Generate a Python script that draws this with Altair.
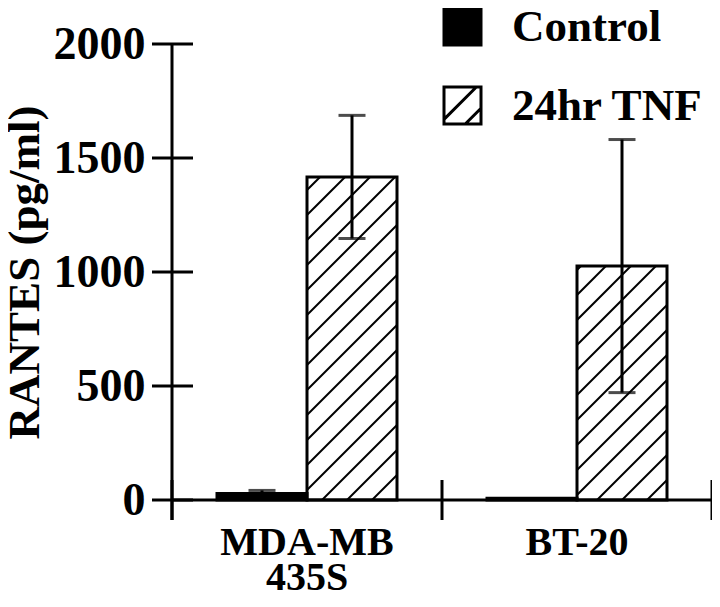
import math
import altair as alt
import pandas as pd

# ---- data ----
cell_lines = ["MDA-MB\n435S", "BT-20"]
treatments = ["Control", "24hr TNF"]
control_mean = [28, 8]
control_err = [14, 0]
tnf_mean = [1417, 1026]
tnf_err = [270, 555]
y_ticks = [0, 500, 1000, 1500, 2000]

# ---- layout / style constants ----
W, H = 540, 456
YMAX = 2000
FONT = "Liberation Serif"
BAR_PAD = 1 / 6
BAR_W = 1 / 3
HATCH_SP = 25  # vertical spacing of hatch lines, px
HATCH_PATH = ("M-1,-1L1,-1L1,1L-1,1Z"
              "M-1,0.75L0.75,-1"
              "M0.15,1L1,0.15")

n = len(cell_lines)
rows = []
for i, name in enumerate(cell_lines):
    means = [control_mean[i], tnf_mean[i]]
    errs = [control_err[i], tnf_err[i]]
    for j, t in enumerate(treatments):
        x0 = i + BAR_PAD + j * BAR_W
        rows.append(dict(cell=name, treatment=t, x0=x0, x1=x0 + BAR_W,
                         xc=x0 + BAR_W / 2, mean=means[j], err=errs[j],
                         lo=means[j] - errs[j], hi=means[j] + errs[j]))
bars = pd.DataFrame(rows)
errs_df = bars[bars["err"] > 0]

# hatch segments for the TNF bars (45 degree lines clipped to each bar)
px_x = W / n
px_y = H / YMAX
segs = []
for _, r in bars[bars["treatment"] == "24hr TNF"].iterrows():
    a, b = r.x0 * px_x, r.x1 * px_x
    t = r["mean"] * px_y
    kmin = math.ceil((-b) / HATCH_SP)
    kmax = math.floor((t - a) / HATCH_SP)
    for k in range(kmin, kmax + 1):
        c = k * HATCH_SP
        s = max(a, -c)
        e = min(b, t - c)
        if e - s > 1:
            segs.append(dict(x=s / px_x, x2=e / px_x,
                             y=(s + c) / px_y, y2=(e + c) / px_y))
hatch = pd.DataFrame(segs)

labels = pd.DataFrame({"cell": cell_lines, "xc": [i + 0.5 for i in range(n)]})
bounds = pd.DataFrame({"b": list(range(n + 1))})
yt = pd.DataFrame({"v": y_ticks})
one = pd.DataFrame({"a": [0]})

xs = alt.Scale(domain=[0, n], nice=False, zero=False)
ys = alt.Scale(domain=[0, YMAX], nice=False)
YAXIS = alt.Axis(
    values=y_ticks, format="d", title="RANTES (pg/ml)", domain=False, ticks=False,
    grid=False, labelFont=FONT, labelFontSize=46, labelFontWeight="bold",
    labelColor="black", labelPadding=27, titleFont=FONT, titleFontSize=45,
    titleFontWeight="bold", titleColor="black", titlePadding=6)


def Y(field):
    return alt.Y(field, scale=ys, axis=YAXIS, title="RANTES (pg/ml)")


def X(field):
    return alt.X(field, scale=xs, axis=None)


bar_fill = alt.Chart(bars).mark_rect(strokeWidth=0).encode(
    x=X("x0:Q"), x2="x1:Q", y=Y("mean:Q"), y2=alt.datum(0),
    fill=alt.condition("datum.treatment == 'Control'", alt.value("black"), alt.value("white")),
)

hatch_layer = alt.Chart(hatch).mark_rule(color="black", strokeWidth=2).encode(
    x=X("x:Q"), x2="x2:Q", y=Y("y:Q"), y2="y2:Q",
)

bar_outline = alt.Chart(bars).mark_rect(fillOpacity=0, stroke="black", strokeWidth=3).encode(
    x=X("x0:Q"), x2="x1:Q", y=Y("mean:Q"), y2=alt.datum(0),
)

err_rule = alt.Chart(errs_df).mark_rule(color="black", strokeWidth=3).encode(
    x=X("xc:Q"), y=Y("lo:Q"), y2="hi:Q",
)
err_cap_hi = alt.Chart(errs_df).mark_tick(color="black", orient="horizontal",
                                           size=27, thickness=3).encode(
    x=X("xc:Q"), y=Y("hi:Q"),
)
err_cap_lo = alt.Chart(errs_df).mark_tick(color="black", orient="horizontal",
                                           size=27, thickness=3).encode(
    x=X("xc:Q"), y=Y("lo:Q"),
)

y_line = alt.Chart(one).mark_rule(color="black", strokeWidth=3).encode(
    x=alt.value(0), y=alt.value(0), y2=alt.value(H + 20))
x_line = alt.Chart(one).mark_rule(color="black", strokeWidth=3).encode(
    y=alt.value(H), x=alt.value(0), x2=alt.value(W))
y_tick_marks = alt.Chart(yt).mark_rule(color="black", strokeWidth=3).encode(
    y=Y("v:Q"), x=alt.value(-20), x2=alt.value(21))
x_tick_marks = alt.Chart(bounds).mark_rule(color="black", strokeWidth=3).encode(
    x=X("b:Q"), y=alt.value(H - 20), y2=alt.value(H + 20))

cat_text = alt.Chart(labels).mark_text(
    font=FONT, fontSize=40, fontWeight="bold", color="black", align="center",
    baseline="alphabetic", lineBreak="\n", lineHeight=35).encode(
    x=X("xc:Q"), y=alt.value(H + 55), text="cell:N")

leg_df = pd.DataFrame({"treatment": treatments})
LEG = alt.Legend(title=None, orient="none", legendX=268, legendY=-40)
legend_pts = alt.Chart(leg_df).mark_point(opacity=0).encode(
    x=alt.value(0), y=alt.value(0),
    fill=alt.Fill("treatment:N", scale=alt.Scale(domain=treatments, range=["black", "white"]),
                  legend=LEG),
    stroke=alt.Stroke("treatment:N", scale=alt.Scale(domain=treatments, range=["black", "black"]),
                      legend=LEG),
    shape=alt.Shape("treatment:N", scale=alt.Scale(domain=treatments, range=["square", HATCH_PATH]),
                    legend=LEG),
)

chart = alt.layer(
    bar_fill, hatch_layer, bar_outline, err_rule, err_cap_hi, err_cap_lo,
    y_line, x_line, y_tick_marks, x_tick_marks, cat_text, legend_pts,
).properties(
    width=W, height=H, autosize="none",
    padding={"left": 164, "top": 36, "right": 0, "bottom": 100},
).configure_view(stroke=None).configure_legend(
    padding=0, labelFont=FONT, labelFontSize=45, labelFontWeight="bold",
    labelColor="black", symbolSize=1369, symbolStrokeWidth=3,
    symbolStrokeColor="black", symbolOpacity=1, labelOffset=27, rowPadding=30,
    labelLimit=400,
)

chart.save("out.html", embed_options={"renderer": "svg", "actions": False})
